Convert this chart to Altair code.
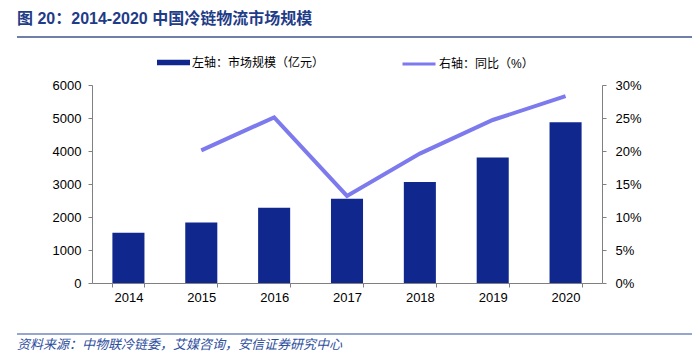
import altair as alt
import pandas as pd

years = ["2014", "2015", "2016", "2017", "2018", "2019", "2020"]
market = [1520, 1830, 2280, 2550, 3060, 3800, 4870]
growth = [None, 0.201, 0.251, 0.132, 0.196, 0.247, 0.283]

bar_name = "左轴：市场规模（亿元）"
line_name = "右轴：同比（%）"
title_text = "图 20：2014-2020 中国冷链物流市场规模"
source_text = "资料来源：中物联冷链委，艾媒咨询，安信证券研究中心"

BAR_COLOR = "#10288E"
LINE_COLOR = "#7D7AEE"
TITLE_COLOR = "#1F3C88"
FONT = "Liberation Sans, Noto Sans CJK SC"

df = pd.DataFrame({"year": years, "market": market, "growth": growth,
                   "s1": bar_name, "s2": line_name})

x = alt.X("year:N", title=None,
          scale=alt.Scale(paddingInner=0.56, paddingOuter=0.28),
          axis=alt.Axis(labelAngle=0, tickBand="extent", tickSize=4,
                        labelPadding=4, domainColor="#808080", tickColor="#808080",
                        labelFontSize=13, labelColor="#000000", labelFont=FONT))

bars = alt.Chart(df).mark_bar().encode(
    x=x,
    y=alt.Y("market:Q", title=None,
            scale=alt.Scale(domain=[0, 6000]),
            axis=alt.Axis(values=[0, 1000, 2000, 3000, 4000, 5000, 6000], grid=False,
                          format="d",
                          tickSize=4, labelPadding=7, domainColor="#808080",
                          tickColor="#808080", labelFontSize=13, labelColor="#000000",
                          labelFont=FONT)),
    color=alt.Color("s1:N", scale=alt.Scale(domain=[bar_name], range=[BAR_COLOR]),
                    legend=alt.Legend(title=None, orient="none", legendX=65, legendY=-39,
                                      symbolType="M-1,-0.16H1V0.16H-1Z", symbolSize=1089,
                                      labelFontSize=12, labelFont=FONT, labelColor="#000000",
                                      labelOffset=2, padding=0, symbolStrokeWidth=0)),
)

line = alt.Chart(df).mark_line(strokeWidth=4).encode(
    x=x,
    y=alt.Y("growth:Q", title=None,
            scale=alt.Scale(domain=[0, 0.30]),
            axis=alt.Axis(orient="right", format=".0%",
                          values=[0, 0.05, 0.10, 0.15, 0.20, 0.25, 0.30], grid=False,
                          tickSize=4, labelPadding=9, domainColor="#808080",
                          tickColor="#808080", labelFontSize=13, labelColor="#000000",
                          labelFont=FONT)),
    stroke=alt.Stroke("s2:N", scale=alt.Scale(domain=[line_name], range=[LINE_COLOR]),
                      legend=alt.Legend(title=None, orient="none", legendX=309, legendY=-39,
                                        symbolType="stroke", symbolSize=1089,
                                        symbolStrokeWidth=3,
                                        labelFontSize=12, labelFont=FONT, labelColor="#000000",
                                        labelOffset=2, padding=0)),
)

tdf = pd.DataFrame({"t": [title_text]})
title = alt.Chart(tdf).mark_text(align="left", baseline="middle", fontSize=16,
                                 fontWeight="bold", color=TITLE_COLOR, font=FONT).encode(
    text="t:N", x=alt.value(-75), y=alt.value(-66))
title_rule = alt.Chart(tdf).mark_rule(color="#6F7FA8", strokeWidth=2).encode(
    x=alt.value(-75), x2=alt.value(600), y=alt.value(-48))

sdf = pd.DataFrame({"t": [source_text]})
source = alt.Chart(sdf).mark_text(align="left", baseline="middle", fontSize=13,
                                  fontStyle="italic", color="#2D4E9E", font=FONT).encode(
    text="t:N", x=alt.value(-75), y=alt.value(260))
source_rule = alt.Chart(sdf).mark_rule(color="#2D4E9E", strokeWidth=1).encode(
    x=alt.value(-75), x2=alt.value(600), y=alt.value(249))

chart = alt.layer(bars, line, title, title_rule, source, source_rule).resolve_scale(
    y="independent", color="independent"
).properties(
    width=510, height=198,
    autosize=alt.AutoSizeParams(type="none"),
    padding={"left": 84, "top": 77, "right": 90, "bottom": 69},
).configure_view(stroke=None)

chart.save("out.html", embed_options={"renderer": "svg", "actions": False})
